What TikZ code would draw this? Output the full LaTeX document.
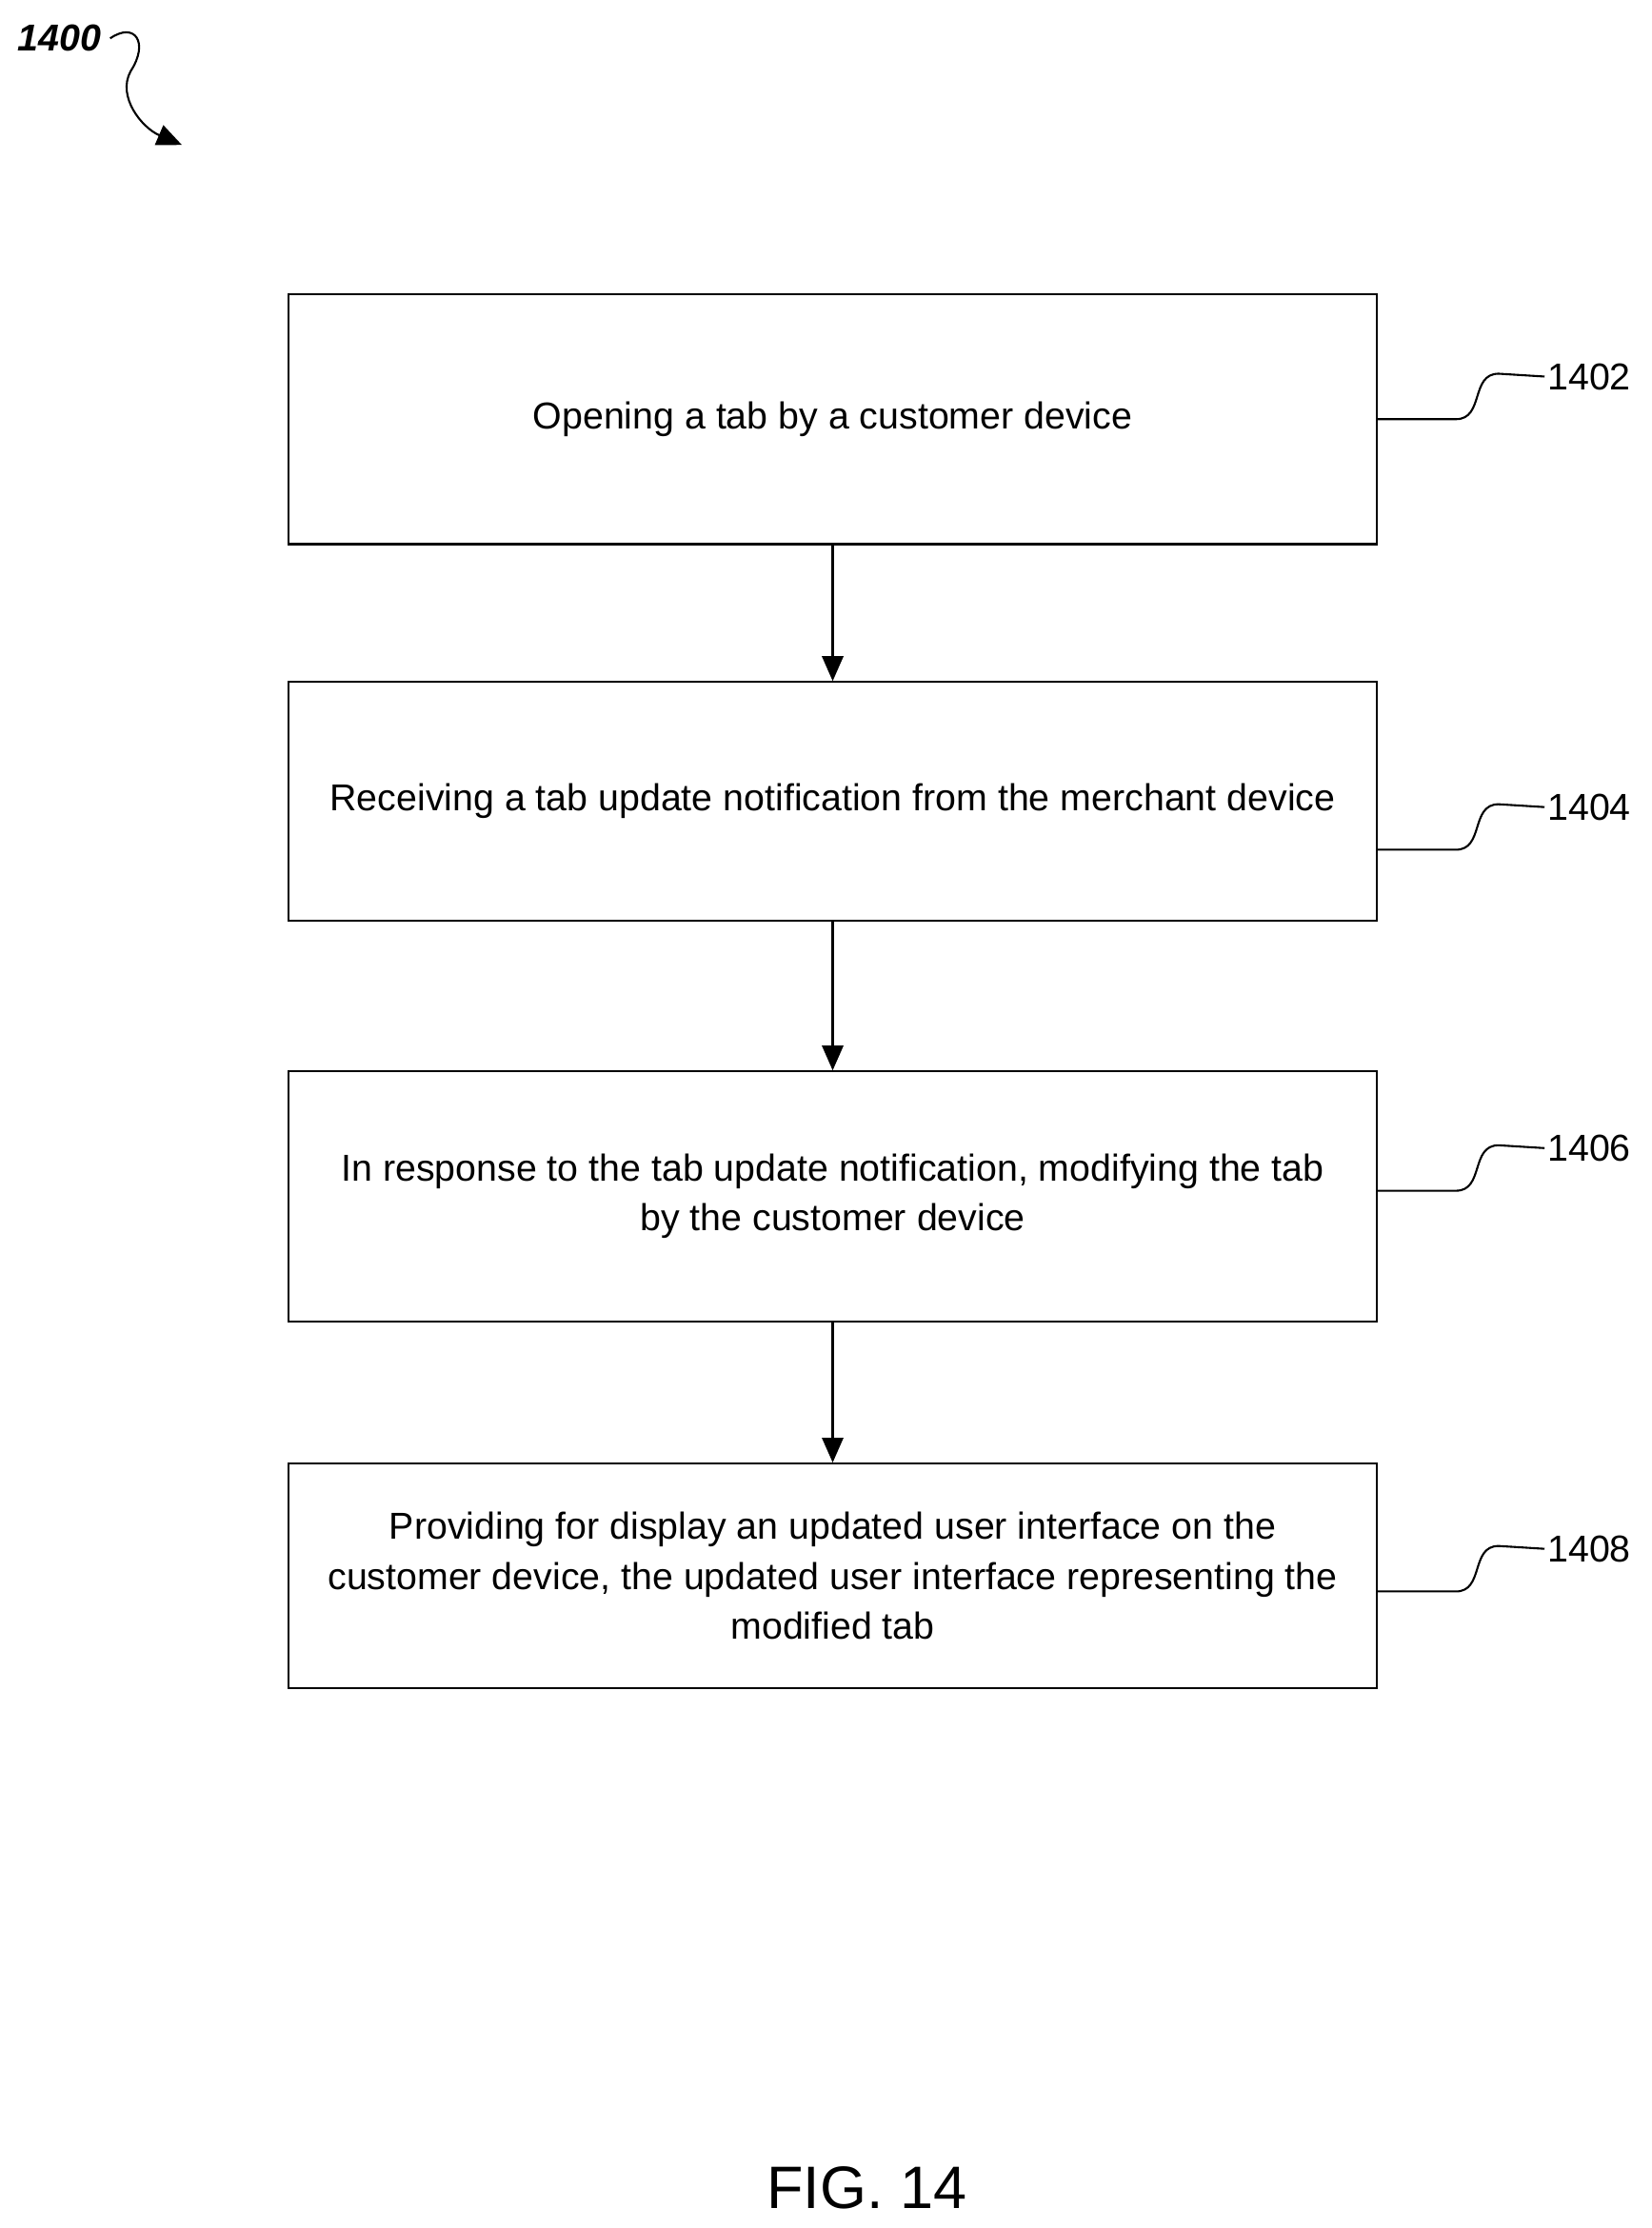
\documentclass[tikz,border=0pt]{standalone}
\usepackage{fontspec}
\setmainfont{Liberation Sans}
\usetikzlibrary{positioning, arrows.meta}
\tikzset{
  procbox/.style={draw, thick, minimum width=15.32cm, align=center,
    font=\fontsize{15}{20}\selectfont, inner sep=2pt},
  num/.style={font=\fontsize{15}{18}\selectfont, anchor=west, inner sep=1pt},
  flow/.style={thick, -{Triangle[length=3.5mm, width=3mm]}},
  lead/.style={thick}
}
\begin{document}
\begin{tikzpicture}[x=0.02cm, y=-0.02cm]
  \useasboundingbox (0,0) rectangle (1162,1568);

  \node [font=\fontsize{15}{18}\selectfont\bfseries\itshape] (fig) at (42,27) {1400};
  \coordinate (figend) at (128,102);
  \draw [thick, -{Triangle[length=3.5mm, width=3mm]}] (fig.east) .. controls (95,15) and (105,30) .. (92,50)
    .. controls (82,68) and (100,90) .. (figend);

  \node [procbox, minimum height=3.52cm] (s1402) at (586,295) {Opening a tab by a customer device};
  \node [procbox, minimum height=3.36cm] (s1404) at (586,564) {Receiving a tab update notification from the merchant device};
  \node [procbox, minimum height=3.52cm] (s1406) at (586,842) {In response to the tab update notification, modifying the tab\\by the customer device};
  \node [procbox, minimum height=3.16cm] (s1408) at (586,1109) {Providing for display an updated user interface on the\\customer device, the updated user interface representing the\\modified tab};

  \draw [flow] (s1402) -- (s1404);
  \draw [flow] (s1404) -- (s1406);
  \draw [flow] (s1406) -- (s1408);

  % reference numbers with leader curves
  \node [num] (n1402) at (1087,265) {1402};
  \node [num] (n1404) at (1087,568) {1404};
  \node [num] (n1406) at (1087,808) {1406};
  \node [num] (n1408) at (1087,1090) {1408};
  \foreach \s/\dy in {1402/0, 1404/34, 1406/-4, 1408/11} {
    \draw [lead] ([yshift=-\dy*0.02cm]s\s.east) -- ++(55,0)
      .. controls ++(20,0) and ++(-20,0) .. ++(30,-32) -- (n\s.west);
  }

  \node [font=\fontsize{24}{28}\selectfont] (caption) at (610,1540) {FIG. 14};
\end{tikzpicture}
\end{document}
